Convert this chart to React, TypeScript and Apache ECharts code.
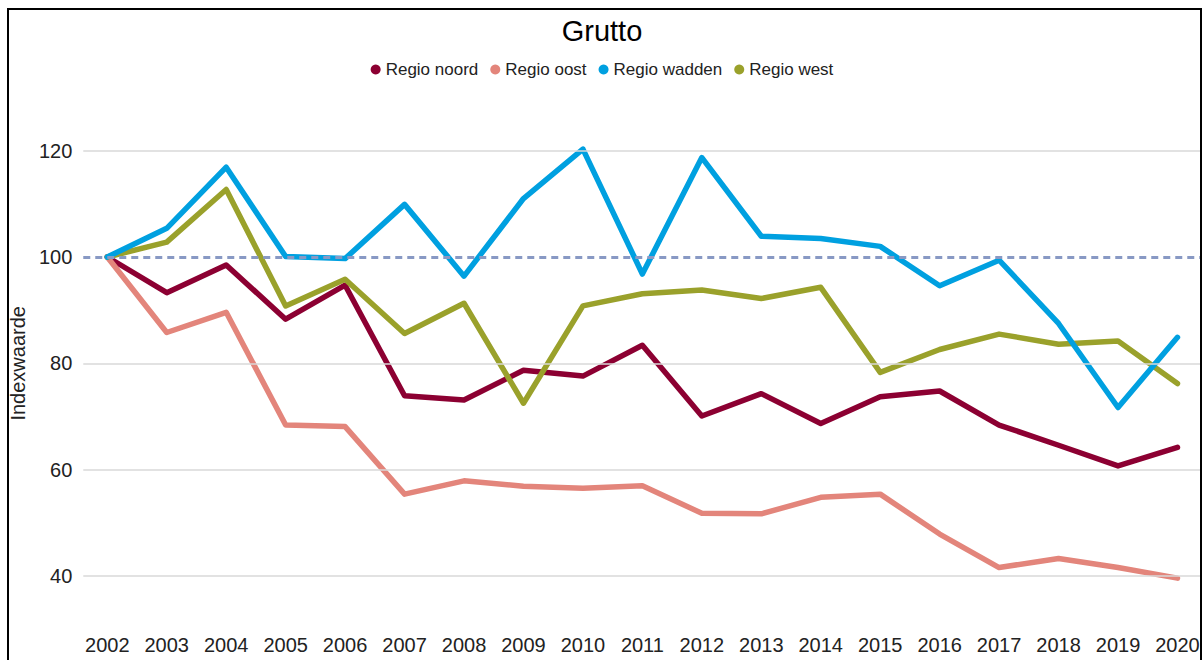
import React, { useEffect, useRef } from "react";
import * as echarts from "echarts";

const years = [2002, 2003, 2004, 2005, 2006, 2007, 2008, 2009, 2010, 2011, 2012, 2013, 2014, 2015, 2016, 2017, 2018, 2019, 2020];
const noord = [100, 93.3, 98.5, 88.3, 94.7, 73.9, 73.1, 78.7, 77.6, 83.4, 70.1, 74.3, 68.7, 73.7, 74.8, 68.4, 64.6, 60.7, 64.2];
const oost = [100, 85.8, 89.6, 68.4, 68.1, 55.4, 57.9, 56.9, 56.5, 57.0, 51.8, 51.7, 54.8, 55.4, 47.9, 41.6, 43.3, 41.6, 39.6];
const wadden = [100, 105.4, 116.9, 100.1, 99.7, 109.9, 96.4, 111.0, 120.3, 96.8, 118.7, 103.9, 103.5, 102.0, 94.6, 99.4, 87.5, 71.7, 84.9];
const west = [100, 102.8, 112.7, 90.8, 95.8, 85.6, 91.3, 72.5, 90.8, 93.1, 93.8, 92.2, 94.3, 78.3, 82.6, 85.5, 83.6, 84.2, 76.2];
const yTicks = [40, 60, 80, 100, 120];
const gridValues = [40, 60, 80, 120];
const referenceValue = 100;

const FONT = "'Liberation Sans', Arial, sans-serif";

export default function App() {
  const ref = useRef<HTMLDivElement>(null);
  useEffect(() => {
    if (!ref.current) return;
    const chart = echarts.init(ref.current, null, { renderer: "svg" });
    const mk = (name: string, vals: number[], color: string, z: number) => ({
      name,
      type: "line",
      data: years.map((y, i) => [y, vals[i]]),
      showSymbol: false,
      symbol: "circle",
      z,
      itemStyle: { color },
      lineStyle: { color, width: 5.5, cap: "round", join: "round" },
      emphasis: { disabled: true },
    });
    chart.setOption({
      animation: false,
      backgroundColor: "#ffffff",
      textStyle: { fontFamily: FONT },
      title: {
        text: "Grutto",
        left: "center",
        top: 11,
        textStyle: { fontFamily: FONT, fontSize: 29, fontWeight: "normal", color: "#000" },
      },
      legend: {
        data: ["Regio noord", "Regio oost", "Regio wadden", "Regio west"],
        top: 56,
        left: "center",
        icon: "circle",
        itemWidth: 10,
        itemHeight: 10,
        itemGap: 12,
        textStyle: { fontFamily: FONT, fontSize: 17, color: "#222" },
      },
      grid: { left: 83, right: 4, top: 97.5, bottom: 30.8, containLabel: false },
      xAxis: {
        type: "value",
        min: 2001.596,
        max: 2020.379,
        axisLine: { show: false },
        axisTick: { show: false },
        splitLine: { show: false },
        axisLabel: {
          customValues: years,
          formatter: (v: number) => String(v),
          fontFamily: FONT,
          fontSize: 20,
          color: "#222",
          margin: 6,
        },
      },
      yAxis: {
        type: "value",
        min: 30,
        max: 130,
        interval: 10,
        name: "Indexwaarde",
        nameLocation: "middle",
        nameGap: 54,
        nameTextStyle: { fontFamily: FONT, fontSize: 20, color: "#222" },
        axisLine: { show: false },
        axisTick: { show: false },
        splitLine: { show: false },
        axisLabel: {
          formatter: (v: number) => (yTicks.indexOf(v) >= 0 ? String(v) : ""),
          fontFamily: FONT,
          fontSize: 20,
          color: "#222",
          margin: 11,
        },
      },
      series: [
        {
          name: "__grid",
          type: "line",
          data: [],
          z: 1,
          silent: true,
          markLine: {
            silent: true,
            symbol: "none",
            label: { show: false },
            lineStyle: { color: "#d9d9d9", width: 1.5, type: "solid" },
            data: gridValues.map((v) => ({ yAxis: v })),
          },
        },
        mk("Regio noord", noord, "#8C0032", 2),
        mk("Regio oost", oost, "#E3857B", 2),
        mk("Regio wadden", wadden, "#00A0E0", 4),
        mk("Regio west", west, "#9AA12B", 3),
        {
          name: "__ref",
          type: "line",
          data: [],
          z: 10,
          silent: true,
          markLine: {
            silent: true,
            symbol: "none",
            label: { show: false },
            lineStyle: { color: "#8899C4", width: 3, type: [7, 5] },
            data: [{ yAxis: referenceValue }],
          },
        },
      ],
    });
    return () => chart.dispose();
  }, []);
  return (
    <div style={{ position: "fixed", left: 0, top: 0, width: 1204, height: 660, overflow: "hidden", background: "#fff" }}>
      <div ref={ref} style={{ position: "absolute", left: 0, top: 0, width: 1204, height: 660 }} />
      <div
        style={{
          position: "absolute",
          left: 7,
          top: 8,
          width: 1195,
          height: 720,
          border: "2px solid #000",
          boxSizing: "border-box",
          pointerEvents: "none",
        }}
      />
    </div>
  );
}
